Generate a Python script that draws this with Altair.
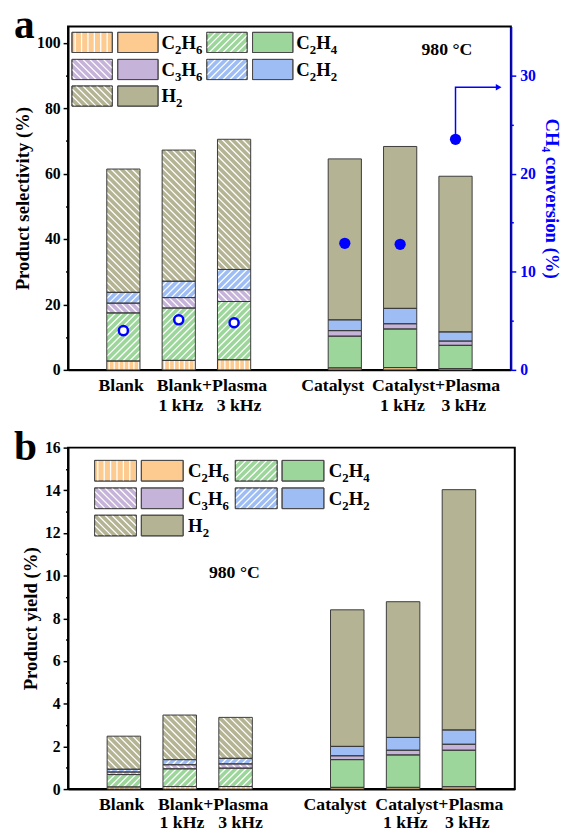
import altair as alt
import pandas as pd

# ---------------- data ----------------
conditions = ["Blank", "Blank+Plasma 1 kHz", "Blank+Plasma 3 kHz",
              "Catalyst", "Catalyst+Plasma 1 kHz", "Catalyst+Plasma 3 kHz"]
bar_pos = [1, 2, 3, 5, 6, 7]
catalyst = [False, False, False, True, True, True]

species = ["C2H6", "C2H4", "C3H6", "C2H2", "H2"]

# product selectivity (%), segment values stacked bottom -> top
sel_C2H6 = [2.7, 2.9, 3.1, 0.6, 0.7, 0.4]
sel_C2H4 = [14.7, 16.0, 17.8, 9.7, 11.8, 7.1]
sel_C3H6 = [3.0, 3.2, 3.6, 1.7, 1.6, 1.3]
sel_C2H2 = [3.3, 5.0, 6.2, 3.3, 4.7, 2.8]
sel_H2 = [37.7, 40.1, 39.8, 49.2, 49.5, 47.6]
ch4_conversion = [4.0, 5.1, 4.8, 12.9, 12.8, 23.5]

# product yield (%)
yld_C2H6 = [0.10, 0.12, 0.12, 0.08, 0.08, 0.11]
yld_C2H4 = [0.58, 0.83, 0.86, 1.30, 1.52, 1.71]
yld_C3H6 = [0.12, 0.19, 0.20, 0.18, 0.22, 0.28]
yld_C2H2 = [0.13, 0.24, 0.26, 0.44, 0.60, 0.67]
yld_H2 = [1.55, 2.09, 1.92, 6.40, 6.36, 11.26]

group_labels = ["Blank", "Blank+Plasma", "1 kHz", "3 kHz",
                "Catalyst", "Catalyst+Plasma", "1 kHz", "3 kHz"]
group_label_x = [0.96, 2.60, 2.04, 3.09, 4.78, 6.65, 6.04, 7.15]
group_label_line = [1, 1, 2, 2, 1, 1, 2, 2]

# ---------------- style ----------------
FONT = "Liberation Serif"
BLUE = "#0000FF"
colors = ["#FDCB8F", "#9CD69A", "#C6B3D9", "#9EBDF4", "#B4B393"]
hatch_kind = ["|", "/", "\\", "/", "\\"]
BAR_HALF = 0.3
X_MAX = 8
color_scale = alt.Scale(domain=species, range=colors)
LAB_FS, SUB_FS = 19, 13
CHAR_W = {"C": 0.722, "H": 0.778}   # Times/Liberation Serif Bold advance widths (em)


def hatch_segments(w, h, kind, sp_diag=7.0, sp_vert=5.0):
    segs = []
    if kind == "|":
        x = sp_vert / 2
        while x < w:
            segs.append((x, 0.0, x, h))
            x += sp_vert
    elif kind == "/":
        c = -w + sp_diag / 2
        while c < h:
            xs, xe = max(0.0, -c), min(w, h - c)
            if xe > xs:
                segs.append((xs, xs + c, xe, xe + c))
            c += sp_diag
    else:
        c = sp_diag / 2
        while c < w + h:
            xs, xe = max(0.0, c - h), min(w, c)
            if xe > xs:
                segs.append((xs, c - xs, xe, c - xe))
            c += sp_diag
    return segs


def build_frames(values, ppx, ppy):
    rows, hrows = [], []
    for i, pos in enumerate(bar_pos):
        cum = 0.0
        for k, sp in enumerate(species):
            v = values[k][i]
            y0, y1 = cum, cum + v
            cum = y1
            rows.append(dict(species=sp, x0=pos - BAR_HALF, x1=pos + BAR_HALF, y0=y0, y1=y1))
            if not catalyst[i]:
                w = 2 * BAR_HALF * ppx
                h = v * ppy
                for (xa, ya, xb, yb) in hatch_segments(w, h, hatch_kind[k]):
                    hrows.append(dict(xa=pos - BAR_HALF + xa / ppx, ya=y0 + ya / ppy,
                                      xb=pos - BAR_HALF + xb / ppx, yb=y0 + yb / ppy))
    return pd.DataFrame(rows), pd.DataFrame(hrows)


def formula_runs(name):
    """split 'C2H6' into (text, is_subscript) runs"""
    return [(ch, ch.isdigit()) for ch in name]


def legend_frames(col_x, row_y, sw, sh, dx_solid, dx_label):
    cols = [0, 1, 0, 1, 0]
    rows = [0, 0, 1, 1, 2]
    sw_rows, h_rows, main_rows, sub_rows = [], [], [], []
    for k, sp in enumerate(species):
        x = col_x[cols[k]]
        y = row_y[rows[k]]
        sw_rows.append(dict(species=sp, sx0=x, sx1=x + sw, sy0=y, sy1=y + sh))
        sw_rows.append(dict(species=sp, sx0=x + dx_solid, sx1=x + dx_solid + sw, sy0=y, sy1=y + sh))
        for (xa, ya, xb, yb) in hatch_segments(sw, sh, hatch_kind[k], sp_vert=6.5):
            h_rows.append(dict(hx0=x + xa, hy0=y + sh - ya, hx1=x + xb, hy1=y + sh - yb))
        base = y + sh / 2 + 6.5
        cx = x + dx_label
        for txt, sub in formula_runs(sp):
            if sub:
                sub_rows.append(dict(t=txt, lx=cx, ly=base + 5))
                cx += 0.5 * SUB_FS
            else:
                main_rows.append(dict(t=txt, lx=cx, ly=base))
                cx += CHAR_W[txt] * LAB_FS
    return (pd.DataFrame(sw_rows), pd.DataFrame(h_rows),
            pd.DataFrame(main_rows), pd.DataFrame(sub_rows))


def left_group(values, width, height, ymax, step, label_every, ytitle,
               letter, letter_y, leg, temp_xy, line_off):
    ppx = width / X_MAX
    ppy = height / ymax
    bars, hatch = build_frames(values, ppx, ppy)
    xs = alt.Scale(domain=[0, X_MAX], nice=False, zero=False)
    ys = alt.Scale(domain=[0, ymax], nice=False)
    xaxis = alt.Axis(labels=False, ticks=False, title=None, domainColor="black", domainWidth=2)
    n = int(round(ymax / step))
    yvals = [round(step * i, 6) for i in range(n + 1)]
    yaxis = alt.Axis(values=yvals, title=ytitle,
                     labelExpr=f"abs(datum.value % {label_every}) < 1e-6 ? datum.label : ''",
                     tickSize={"condition": {"test": f"abs(datum.value % {label_every}) < 1e-6", "value": 5},
                               "value": 2.5},
                     tickWidth=1.5, tickColor="black", domainColor="black", domainWidth=2,
                     labelPadding=3, titlePadding=4)

    fill = alt.Chart(bars).mark_rect(strokeWidth=0).encode(
        x=alt.X("x0:Q", scale=xs, axis=xaxis), x2="x1:Q",
        y=alt.Y("y0:Q", scale=ys, axis=yaxis), y2="y1:Q",
        color=alt.Color("species:N", scale=color_scale, legend=None))
    hl = alt.Chart(hatch).mark_rule(color="white", strokeWidth=1.3).encode(
        x=alt.X("xa:Q", scale=xs, axis=xaxis), x2="xb:Q",
        y=alt.Y("ya:Q", scale=ys, axis=yaxis), y2="yb:Q")
    outline = alt.Chart(bars).mark_rect(fillOpacity=0, stroke="#3a3a3a", strokeWidth=1).encode(
        x=alt.X("x0:Q", scale=xs, axis=xaxis), x2="x1:Q",
        y=alt.Y("y0:Q", scale=ys, axis=yaxis), y2="y1:Q")

    gl = pd.DataFrame(dict(label=group_labels, x=group_label_x,
                           py=[height + line_off[l - 1] for l in group_label_line]))
    glabels = alt.Chart(gl).mark_text(font=FONT, fontWeight="bold", fontSize=18,
                                      baseline="middle", color="black").encode(
        x=alt.X("x:Q", scale=xs, axis=xaxis), y=alt.Y("py:Q", scale=None, axis=None), text="label:N")

    sw, hw, labm, labs = legend_frames(*leg)
    lsw = alt.Chart(sw).mark_rect(stroke="#4a4a4a", strokeWidth=1).encode(
        x=alt.X("sx0:Q", scale=None, axis=None), x2="sx1:Q",
        y=alt.Y("sy0:Q", scale=None, axis=None), y2="sy1:Q",
        color=alt.Color("species:N", scale=color_scale, legend=None))
    lh = alt.Chart(hw).mark_rule(color="white", strokeWidth=1.3).encode(
        x=alt.X("hx0:Q", scale=None, axis=None), x2="hx1:Q",
        y=alt.Y("hy0:Q", scale=None, axis=None), y2="hy1:Q")
    lsw2 = alt.Chart(sw).mark_rect(fillOpacity=0, stroke="#4a4a4a", strokeWidth=1).encode(
        x=alt.X("sx0:Q", scale=None, axis=None), x2="sx1:Q",
        y=alt.Y("sy0:Q", scale=None, axis=None), y2="sy1:Q")
    ltxt = alt.Chart(labm).mark_text(font=FONT, fontWeight="bold", fontSize=LAB_FS, align="left",
                                     baseline="alphabetic", color="black").encode(
        x=alt.X("lx:Q", scale=None, axis=None), y=alt.Y("ly:Q", scale=None, axis=None), text="t:N")
    lsub = alt.Chart(labs).mark_text(font=FONT, fontWeight="bold", fontSize=SUB_FS, align="left",
                                     baseline="alphabetic", color="black").encode(
        x=alt.X("lx:Q", scale=None, axis=None), y=alt.Y("ly:Q", scale=None, axis=None), text="t:N")

    temp = alt.Chart(pd.DataFrame({"t": ["980 °C"]})).mark_text(
        font=FONT, fontWeight="bold", fontSize=18, color="black", baseline="middle").encode(
        x=alt.value(temp_xy[0]), y=alt.value(temp_xy[1]), text="t:N")
    let = alt.Chart(pd.DataFrame({"t": [letter]})).mark_text(
        font=FONT, fontWeight="bold", fontSize=42, color="black", align="left",
        baseline="alphabetic").encode(x=alt.value(-55), y=alt.value(letter_y), text="t:N")

    return alt.layer(fill, hl, outline, glabels, lsw, lh, lsw2, ltxt, lsub, temp, let), xs, xaxis


# ---------------- panel a ----------------
W1, H1 = 450, 349
sel_values = [sel_C2H6, sel_C2H4, sel_C3H6, sel_C2H2, sel_H2]
left_a, xs_a, xaxis_a = left_group(
    sel_values, W1, H1, 105, 10, 20, "Product selectivity (%)", "a", 11.5,
    ([4, 141], [6, 33.5, 60.5], 41, 20.5, 46.5, 91), (385, 24.5), (16, 37))

yr = alt.Scale(domain=[0, 35], nice=False)
raxis = alt.Axis(orient="right", values=[0, 5, 10, 15, 20, 25, 30], title="CH₄ conversion (%)",
                 labelExpr="datum.value % 10 == 0 ? datum.label : ''",
                 tickSize={"condition": {"test": "datum.value % 10 == 0", "value": 5}, "value": 2.5},
                 domainColor=BLUE, tickColor=BLUE, labelColor=BLUE, titleColor=BLUE,
                 domainWidth=2, tickWidth=1.5, labelPadding=4, titlePadding=6)

conv_df = pd.DataFrame(dict(pos=bar_pos, conv=ch4_conversion, cat=catalyst))
hollow = alt.Chart(conv_df[~conv_df["cat"]]).mark_point(
    shape="circle", filled=True, fill="white", stroke=BLUE, strokeWidth=2.5, size=85, opacity=1).encode(
    x=alt.X("pos:Q", scale=xs_a, axis=xaxis_a), y=alt.Y("conv:Q", scale=yr, axis=raxis))
solid = alt.Chart(conv_df[conv_df["cat"]]).mark_circle(color=BLUE, size=130, opacity=1).encode(
    x=alt.X("pos:Q", scale=xs_a, axis=xaxis_a), y=alt.Y("conv:Q", scale=yr, axis=raxis))

ARROW_Y = 28.8
ARROW_END = X_MAX - 0.16
arrow_df = pd.DataFrame(dict(x=[bar_pos[-1], bar_pos[-1], ARROW_END - 0.1],
                             y=[ch4_conversion[-1], ARROW_Y, ARROW_Y], o=[0, 1, 2]))
arrow_line = alt.Chart(arrow_df).mark_line(color=BLUE, strokeWidth=1.5).encode(
    x=alt.X("x:Q", scale=xs_a, axis=xaxis_a), y=alt.Y("y:Q", scale=yr, axis=raxis), order="o:Q")
arrow_head = alt.Chart(pd.DataFrame(dict(x=[ARROW_END - 0.06], y=[ARROW_Y]))).mark_point(
    shape="triangle-right", filled=True, color=BLUE, size=45, opacity=1).encode(
    x=alt.X("x:Q", scale=xs_a, axis=xaxis_a), y=alt.Y("y:Q", scale=yr, axis=raxis))

right_a = alt.layer(hollow, solid, arrow_line, arrow_head)
panel_a = alt.layer(left_a, right_a).resolve_scale(y="independent").properties(width=W1, height=H1)

# ---------------- panel b ----------------
W2, H2 = 454, 347
yld_values = [yld_C2H6, yld_C2H4, yld_C3H6, yld_C2H2, yld_H2]
left_b, _, _ = left_group(
    yld_values, W2, H2, 16, 1, 2, "Product yield (%)", "b", 13,
    ([27, 170], [13, 41, 68.7], 42.5, 21, 47.5, 95), (169, 127), (16, 35))
panel_b = left_b.properties(width=W2, height=H2)

chart = alt.vconcat(panel_a, panel_b, spacing=10).properties(
    padding={"top": -12, "left": 5, "right": 3, "bottom": 0}
).configure(font=FONT).configure_axis(
    labelFont=FONT, titleFont=FONT, labelFontWeight="bold", titleFontWeight="bold",
    labelFontSize=16, titleFontSize=19, labelColor="black", titleColor="black", grid=False
).configure_view(stroke="black", strokeWidth=2)

chart.save("out.html", embed_options={"renderer": "svg", "actions": False})
